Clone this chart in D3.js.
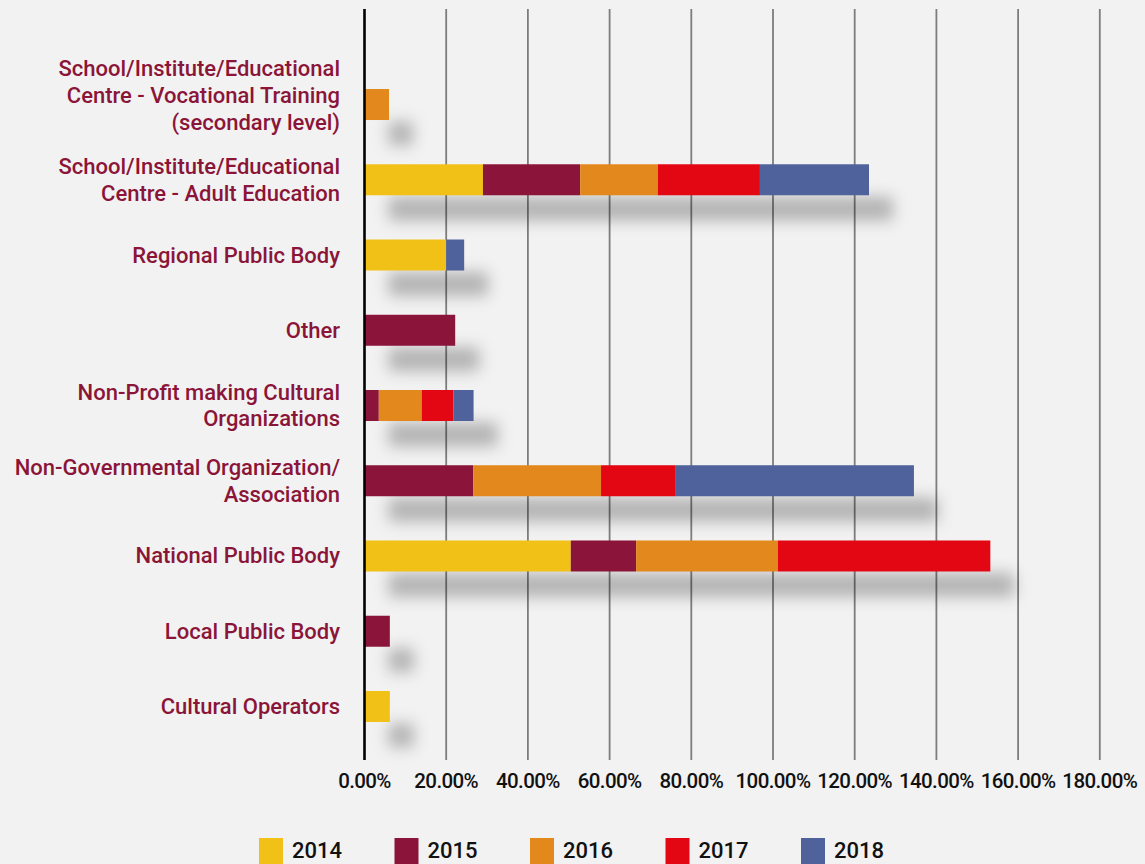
<!DOCTYPE html>
<html>
<head>
<meta charset="utf-8">
<script src="https://cdn.jsdelivr.net/npm/d3@7"></script>
<style>
  html, body { margin: 0; padding: 0; background: #f2f2f2; }
  svg { display: block; }
</style>
</head>
<body>
<div id="chart"></div>
<script>
// categories top to bottom, "\n" marks line breaks in the label
const categories = [
  "School/Institute/Educational\nCentre - Vocational Training\n(secondary level)",
  "School/Institute/Educational\nCentre - Adult Education",
  "Regional Public Body",
  "Other",
  "Non-Profit making Cultural\nOrganizations",
  "Non-Governmental Organization/\nAssociation",
  "National Public Body",
  "Local Public Body",
  "Cultural Operators"
];
const years = ["2014", "2015", "2016", "2017", "2018"];

// percentages, same order as categories
const v2014 = [0, 29.0, 20.0, 0, 0, 0, 50.5, 0, 6.2];
const v2015 = [0, 23.8, 0, 22.2, 3.5, 26.6, 16.0, 6.2, 0];
const v2016 = [6.0, 19.0, 0, 0, 10.5, 31.3, 34.7, 0, 0];
const v2017 = [0, 25.0, 0, 0, 7.8, 18.3, 52.0, 0, 0];
const v2018 = [0, 26.7, 4.4, 0, 4.9, 58.3, 0, 0, 0];

const xTicks = [0, 20, 40, 60, 80, 100, 120, 140, 160, 180];
const colors = ["#f2c118", "#8b153a", "#e2881c", "#e30613", "#4f629b"];

const width = 1145, height = 864;
const labelColor = "#8b1538";
const font = "Roboto, 'Liberation Sans', sans-serif";

// build table for d3.stack
const series = [v2014, v2015, v2016, v2017, v2018];
const table = categories.map((c, i) => {
  const row = { cat: c };
  years.forEach((yr, j) => row[yr] = series[j][i]);
  return row;
});

const stacked = d3.stack().keys(years)(table);
const color = d3.scaleOrdinal().domain(years).range(colors);

const x = d3.scaleLinear().domain([0, 180]).range([364.5, 1099.8]);
const y = d3.scaleBand().domain(categories).range([66.9, 744.1])
  .paddingInner(0.588).paddingOuter(0.294);

const gridTop = 9, gridBottom = 760;

const svg = d3.select("#chart").append("svg")
  .attr("width", width)
  .attr("height", height);

svg.append("rect").attr("width", width).attr("height", height).attr("fill", "#f2f2f2");

const defs = svg.append("defs");
defs.append("filter")
  .attr("id", "shadowBlur")
  .attr("filterUnits", "userSpaceOnUse")
  .attr("x", 0).attr("y", 0).attr("width", width).attr("height", height)
  .append("feGaussianBlur")
  .attr("stdDeviation", 7.5);

// gridlines
svg.append("g").selectAll("line")
  .data(xTicks.filter(d => d > 0))
  .join("line")
  .attr("x1", d => x(d)).attr("x2", d => x(d))
  .attr("y1", gridTop).attr("y2", gridBottom)
  .attr("stroke", "#7d7d7d")
  .attr("stroke-width", 1.8);

// shadows, one per category using the full stacked length
const totals = table.map(r => d3.sum(years, yr => r[yr]));
svg.append("g")
  .attr("filter", "url(#shadowBlur)")
  .selectAll("rect")
  .data(categories)
  .join("rect")
  .attr("x", x(0) + 24)
  .attr("y", d => y(d) + y.bandwidth() / 2 + 29 - 12)
  .attr("width", (d, i) => x(totals[i]) - x(0))
  .attr("height", 24)
  .attr("fill", "#000")
  .attr("fill-opacity", 0.26);

// bars
svg.append("g").selectAll("g")
  .data(stacked)
  .join("g")
  .attr("fill", d => color(d.key))
  .selectAll("rect")
  .data(d => d.filter(p => p[1] - p[0] > 0))
  .join("rect")
  .attr("x", d => x(d[0]))
  .attr("y", d => y(d.data.cat))
  .attr("width", d => x(d[1]) - x(d[0]))
  .attr("height", y.bandwidth());

// zero axis line
svg.append("line")
  .attr("x1", x(0)).attr("x2", x(0))
  .attr("y1", gridTop).attr("y2", gridBottom)
  .attr("stroke", "#000")
  .attr("stroke-width", 2.6);

// tick labels
svg.append("g").selectAll("text")
  .data(xTicks)
  .join("text")
  .attr("x", d => x(d))
  .attr("y", 788)
  .attr("text-anchor", "middle")
  .attr("font-family", font)
  .attr("font-weight", 500)
  .attr("font-size", 20.5)
  .attr("letter-spacing", -0.6)
  .attr("fill", "#111")
  .text(d => d3.format(".2f")(d) + "%");

// category labels
const lineH = 26.7;
const labels = svg.append("g").selectAll("text")
  .data(categories)
  .join("text")
  .attr("text-anchor", "end")
  .attr("font-family", font)
  .attr("font-weight", 500)
  .attr("font-size", 22)
  .attr("fill", labelColor);

labels.each(function(d) {
  const lines = d.split("\n");
  const cy = y(d) + y.bandwidth() / 2 - (lines.length === 3 ? 9 : 0);
  const first = cy - (lines.length - 1) * lineH / 2 + 7.5;
  d3.select(this).selectAll("tspan")
    .data(lines)
    .join("tspan")
    .attr("x", 340)
    .attr("y", (l, i) => first + i * lineH)
    .text(l => l);
});

// legend
const legendX0 = 259, legendStep = 135.5;
const legend = svg.append("g").selectAll("g")
  .data(years)
  .join("g")
  .attr("transform", (d, i) => `translate(${legendX0 + i * legendStep},838)`);

legend.append("rect")
  .attr("width", 24).attr("height", 26)
  .attr("fill", d => color(d));

legend.append("text")
  .attr("x", 33)
  .attr("y", 20)
  .attr("font-family", font)
  .attr("font-weight", 500)
  .attr("font-size", 22)
  .attr("fill", "#111")
  .text(d => d);
</script>
</body>
</html>
